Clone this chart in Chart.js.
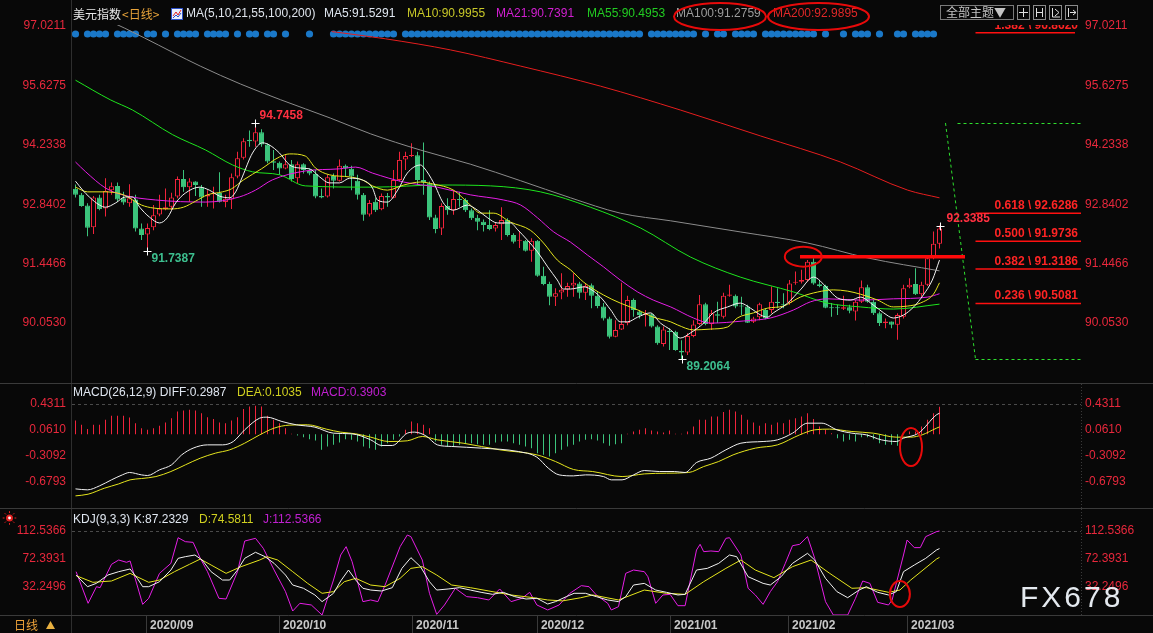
<!DOCTYPE html>
<html><head><meta charset="utf-8">
<script src="https://cdn.jsdelivr.net/npm/chart.js@4.4.1/dist/chart.umd.min.js"></script>
<style>
html,body{margin:0;padding:0;background:#080808;width:1153px;height:633px;overflow:hidden;}
#wrap{position:relative;width:1153px;height:633px;}
canvas{position:absolute;left:0;}
</style></head><body>
<div id="wrap">
<canvas id="c1" width="1153" height="384" style="top:0"></canvas>
<canvas id="c2" width="1153" height="125" style="top:384px"></canvas>
<canvas id="c3" width="1153" height="124" style="top:509px"></canvas>
</div>
<script>
// ================= DATA =================
const openP = [93.20,93.06,92.81,92.30,93.00,92.74,93.17,93.27,92.98,92.86,
 92.95,92.27,92.13,92.30,92.60,92.72,92.78,93.02,93.43,93.24,
 93.37,93.24,93.02,93.08,93.10,92.89,92.95,93.49,93.93,94.35,
 94.31,94.53,94.24,93.85,93.81,93.68,93.78,93.45,93.78,93.62,
 93.55,93.03,93.02,93.50,93.39,93.74,93.67,93.39,93.06,92.60,
 92.90,92.72,93.03,92.99,93.41,93.89,93.97,93.99,93.41,93.33,
 92.53,92.27,92.80,92.70,92.96,92.94,92.70,92.52,92.43,92.35,
 92.27,92.37,92.47,92.12,91.98,91.98,91.75,91.98,91.16,90.97,
 90.67,90.77,90.84,90.93,90.98,90.76,90.94,90.69,90.44,90.16,
 89.73,89.90,90.05,90.59,90.32,90.24,90.26,89.97,89.56,89.87,
 89.85,89.40,89.36,89.75,90.03,90.49,90.03,90.26,90.20,90.69,
 90.69,90.46,90.44,90.08,90.19,90.36,90.36,90.55,90.49,90.53,
 91.00,91.02,91.06,91.49,90.96,90.92,90.42,90.41,90.39,90.42,
 90.32,90.55,90.89,90.55,90.28,90.05,90.09,90.01,90.20,90.89,
 90.97,90.73,90.95,91.57,91.91];
const highP = [93.30,93.10,92.86,93.03,93.06,93.45,93.35,93.35,93.13,93.31,
 93.06,92.39,92.39,92.82,93.06,93.21,93.11,93.49,93.64,93.45,
 93.38,93.29,93.17,93.25,93.59,93.06,93.56,94.07,94.39,94.57,
 94.7458,94.60,94.27,94.11,93.84,93.99,93.88,93.84,93.80,93.68,
 93.64,93.21,93.53,93.56,93.89,93.77,93.74,93.53,93.10,92.94,
 92.98,93.09,93.10,93.64,94.07,94.07,94.27,94.07,94.29,93.37,
 92.59,92.86,92.98,93.17,93.13,92.98,92.74,92.59,92.48,92.70,
 92.41,92.77,92.51,92.16,92.20,92.00,92.04,92.00,91.37,91.02,
 90.87,91.22,91.00,91.22,91.02,90.98,90.98,90.79,90.52,90.20,
 90.12,91.00,90.69,90.63,90.36,90.36,90.28,90.00,89.97,89.93,
 89.87,89.65,89.81,90.12,90.71,90.53,90.36,90.55,90.76,90.95,
 90.72,90.67,90.48,90.20,90.53,90.40,90.91,90.87,90.75,91.06,
 91.26,91.30,91.53,91.57,91.06,90.95,90.52,90.48,90.69,90.48,
 90.59,91.05,90.95,90.59,90.32,90.16,90.09,90.28,90.95,91.10,
 91.34,91.02,91.61,92.20,92.3385];
const lowP = [93.00,92.78,92.09,92.14,92.70,92.55,93.06,92.90,92.83,92.78,
 92.20,92.00,91.7387,92.23,92.56,92.70,92.70,92.98,93.13,92.90,
 93.03,92.78,92.78,92.74,92.88,92.77,92.73,93.45,93.89,94.19,
 94.19,94.19,93.80,93.64,93.53,93.66,93.37,93.33,93.56,93.52,
 92.98,92.98,93.00,93.21,93.37,93.49,93.17,92.95,92.45,92.55,
 92.66,92.70,92.78,92.98,93.37,93.64,93.95,93.29,93.06,92.47,
 92.16,92.12,92.59,92.59,92.78,92.66,92.47,92.23,92.20,92.23,
 92.20,92.00,92.08,91.92,91.81,91.73,91.49,91.14,90.94,90.47,
 90.45,90.61,90.67,90.67,90.63,90.59,90.40,90.40,90.11,89.69,
 89.72,89.89,90.00,90.20,90.16,89.97,89.95,89.54,89.50,89.42,
 89.40,89.2064,89.30,89.72,90.00,90.00,89.89,90.05,90.16,90.67,
 90.40,90.24,90.05,90.05,90.12,90.14,90.28,90.40,90.40,90.48,
 90.95,90.98,91.02,90.95,90.89,90.40,90.20,90.24,90.36,90.28,
 90.11,90.52,90.53,90.24,89.98,89.93,89.93,89.66,90.16,90.87,
 90.71,90.67,90.92,91.55,91.80];
const closeP = [93.06,92.80,92.29,93.00,92.73,93.15,93.26,92.95,92.88,92.98,
 92.27,92.12,92.28,92.58,92.74,92.77,93.00,93.43,93.24,93.37,
 93.29,93.00,93.06,93.11,92.90,92.97,93.47,93.92,94.32,94.32,
 94.53,94.24,93.84,93.81,93.68,93.78,93.43,93.78,93.64,93.56,
 93.02,93.00,93.47,93.39,93.74,93.68,93.49,93.06,92.59,92.87,
 92.70,93.03,93.00,93.41,93.88,93.97,93.99,93.41,93.36,92.53,
 92.26,92.80,92.70,92.96,92.94,92.70,92.51,92.43,92.35,92.26,
 92.35,92.47,92.12,91.96,92.00,91.75,91.98,91.16,90.97,90.67,
 90.75,90.83,90.92,91.00,90.76,90.92,90.69,90.45,90.16,89.73,
 89.89,90.03,90.59,90.36,90.24,90.27,89.97,89.58,89.90,89.84,
 89.42,89.36,89.75,90.02,90.49,90.03,90.28,90.22,90.69,90.72,
 90.44,90.44,90.06,90.16,90.49,90.16,90.55,90.52,90.47,90.98,
 91.02,91.06,91.49,90.98,90.92,90.41,90.40,90.40,90.42,90.34,
 90.55,90.89,90.55,90.28,90.05,90.09,90.01,90.24,90.87,90.95,
 90.73,90.95,91.57,91.91,92.27];

const ma5 = [[0,93.38],[1.2,93.17],[2.3,93.01],[4,92.82],[5,92.77],[6.7,92.87],[8.3,93.01],[9.5,93.01],[10.7,92.77],[12.3,92.54],[14,92.40],[15.3,92.52],[16.7,92.87],[18.3,93.10],[20.7,93.24],[22.3,93.17],[24,93.03],[25.7,92.99],[26.7,93.13],[27.8,93.48],[29.5,94.04],[31.2,94.28],[32.3,94.23],[34,94.04],[35.7,93.76],[37.3,93.69],[39,93.67],[40.7,93.48],[42.3,93.34],[44,93.34],[45.7,93.45],[47.8,93.41],[49.5,93.22],[50.3,92.94],[52,92.89],[53.7,93.17],[55.3,93.57],[57.5,93.76],[58,93.71],[59.7,93.34],[61.3,92.87],[63,92.70],[65.3,92.82],[67,92.70],[68.7,92.52],[70.3,92.40],[72.5,92.40],[73.7,92.24],[75.3,92.00],[77,91.72],[78.7,91.37],[80.3,91.06],[81.3,90.85],[82.5,90.85],[84.7,90.90],[85.8,90.85],[87.5,90.66],[89.2,90.36],[90.8,90.08],[92,90.08],[93.7,90.19],[95.8,90.29],[97.5,90.05],[99.2,89.89],[100.8,89.70],[102.5,89.82],[104.7,90.05],[106.3,90.29],[108.7,90.43],[110.8,90.52],[112.5,90.40],[114.2,90.24],[115.3,90.19],[116.3,90.29],[118.7,90.52],[120.8,90.83],[123,91.13],[125.3,90.87],[127,90.64],[129.2,90.59],[130.8,90.66],[133,90.47],[134.7,90.29],[136.3,90.17],[138,90.24],[139.7,90.43],[141.3,90.71],[142.8,91.06],[144,91.5291]];
const ma10 = [[0,93.24],[2,93.13],[5,93.13],[8,93.06],[11,92.82],[13,92.75],[16,92.73],[18,92.77],[20,92.91],[22,93.06],[24.5,93.13],[26,93.20],[28,93.41],[31,93.67],[34,93.95],[35.7,94.02],[38.3,93.97],[40,93.69],[42.3,93.53],[45.7,93.48],[47.8,93.41],[49.5,93.27],[52,93.17],[54.7,93.29],[57.5,93.36],[59.7,93.31],[63,93.17],[65.8,92.82],[67.5,92.63],[69.7,92.63],[72.5,92.42],[75.8,92.23],[78,91.93],[80.3,91.53],[82.5,91.30],[84.7,91.01],[88,90.71],[90.8,90.52],[93.7,90.36],[96.3,90.19],[99.2,90.08],[100.3,90.01],[103,89.89],[105.8,89.91],[108.7,89.96],[110.3,90.17],[113,90.29],[115.3,90.40],[118,90.45],[120.8,90.66],[123.7,90.78],[126.3,90.83],[128.7,90.80],[130.8,90.73],[133.7,90.59],[136.3,90.43],[138.7,90.45],[140.8,90.52],[143,90.73],[144,90.9955]];
const ma21 = [[0,93.83],[1.7,93.60],[5,93.22],[7.8,93.06],[13.3,92.94],[21.7,92.89],[27.3,93.01],[30,93.17],[32.8,93.41],[38.3,93.62],[44,93.67],[46.7,93.71],[49.5,93.57],[54.7,93.36],[60.3,93.24],[65.8,93.06],[71.3,92.94],[74.2,92.82],[77,92.52],[79.7,92.19],[82.5,91.95],[85.3,91.65],[88,91.37],[90.8,91.06],[93.7,90.78],[96.3,90.59],[99.2,90.43],[103,90.17],[105.8,90.05],[111.3,90.10],[115.8,90.17],[119.7,90.36],[122.5,90.55],[125.3,90.62],[130.8,90.59],[136.3,90.62],[142,90.66],[144,90.7391]];
const ma55 = [[0,95.75],[5.8,95.29],[9.5,95.05],[16.2,94.47],[21.7,94.11],[26.2,93.76],[29.5,93.60],[34,93.53],[38.3,93.27],[49.5,93.24],[60.8,93.29],[69.2,93.27],[77.5,93.13],[85.8,92.77],[94.2,92.28],[102.5,91.60],[110.8,91.13],[119.7,90.78],[125.3,90.52],[130.8,90.43],[136.3,90.38],[144,90.4953]];
const ma100 = [[4.2,97.23],[8.2,96.97],[11.5,96.74],[20.8,96.08],[27.5,95.66],[34.2,95.29],[42.5,94.86],[49.2,94.49],[57.5,94.11],[65.8,93.78],[74.2,93.39],[82.5,92.99],[90.8,92.63],[99.2,92.45],[110.8,92.19],[122,91.93],[132,91.58],[144,91.2759]];
const ma200 = [[42.7,96.89],[51.7,96.72],[62.5,96.46],[74.2,96.08],[87.5,95.61],[100.8,95.05],[114.2,94.44],[127.5,93.83],[138.7,93.17],[144,92.9895]];

const macdHist = [0.196,0.134,0.072,0.134,0.134,0.205,0.262,0.262,0.262,0.238,
 0.157,0.086,0.062,0.086,0.119,0.167,0.229,0.324,0.339,0.348,
 0.339,0.300,0.243,0.215,0.167,0.157,0.196,0.243,0.358,0.396,
 0.405,0.396,0.262,0.205,0.157,0.086,0.005,-0.020,-0.043,-0.072,
 -0.091,-0.224,-0.176,-0.153,-0.119,-0.072,-0.081,-0.105,-0.176,-0.200,
 -0.224,-0.176,-0.129,-0.081,-0.033,0.062,0.181,0.157,0.134,0.086,
 -0.105,-0.153,-0.176,-0.176,-0.153,-0.138,-0.129,-0.143,-0.153,-0.153,
 -0.119,-0.105,-0.105,-0.129,-0.153,-0.176,-0.200,-0.272,-0.296,-0.320,
 -0.272,-0.224,-0.176,-0.153,-0.105,-0.081,-0.072,-0.091,-0.129,-0.167,
 -0.143,-0.129,0.005,0.038,0.062,0.086,0.052,0.038,0.024,0.052,
 0.005,0.005,0.038,0.110,0.205,0.205,0.253,0.253,0.315,0.348,
 0.324,0.277,0.205,0.167,0.119,0.157,0.134,0.167,0.157,0.205,
 0.229,0.253,0.300,0.215,0.110,0.062,0.014,-0.057,-0.105,-0.081,
 -0.105,-0.043,-0.043,-0.072,-0.129,-0.153,-0.153,-0.167,0.010,0.038,
 0.038,0.110,0.205,0.300,0.3903];
const diffLine = [[0,-0.782],[2,-0.796],[4,-0.739],[6,-0.653],[7.8,-0.582],[9,-0.548],[11,-0.582],[12,-0.591],[14,-0.510],[16,-0.439],[17.7,-0.296],[19.6,-0.200],[22,-0.153],[24.5,-0.153],[26.3,-0.105],[28.2,0.062],[30.7,0.229],[31.9,0.243],[34.4,0.181],[36.8,0.134],[39.9,0.100],[43,0.014],[46,0.005],[49.2,-0.081],[51,-0.162],[52.8,-0.162],[55.3,0.014],[56.5,0.029],[58.4,-0.024],[60.3,-0.153],[62.7,-0.176],[67.7,-0.200],[73.8,-0.248],[76.9,-0.329],[78.8,-0.486],[80.6,-0.582],[83,-0.596],[85,-0.582],[88,-0.606],[89.3,-0.653],[91.1,-0.653],[93,-0.582],[94.8,-0.520],[97.3,-0.534],[99.8,-0.534],[101.6,-0.548],[103.5,-0.405],[105.9,-0.343],[108.4,-0.224],[110.9,-0.129],[114.6,-0.105],[117,-0.081],[119.5,0.014],[122,0.157],[124.4,0.157],[126.9,0.062],[129.4,0.014],[131.8,-0.010],[134.3,-0.081],[136.8,-0.105],[138,-0.057],[140.5,0.014],[143.5,0.277],[144,0.2987]];
const deaLine = [[0,-0.882],[2.1,-0.858],[4.8,-0.773],[7.2,-0.711],[9.1,-0.653],[11,-0.634],[13.4,-0.606],[15.9,-0.534],[18.3,-0.439],[20.8,-0.343],[23.3,-0.272],[25.7,-0.224],[28.2,-0.129],[30.7,-0.010],[33.1,0.086],[35.6,0.129],[38.7,0.134],[41.8,0.072],[44.2,0.029],[46.7,0.005],[49.2,-0.043],[52.2,-0.105],[55.3,-0.095],[57.8,-0.033],[60.3,-0.081],[64.6,-0.129],[70.7,-0.224],[76.9,-0.296],[80,-0.391],[83,-0.505],[86.2,-0.534],[91.1,-0.606],[94.8,-0.568],[98.5,-0.558],[102.2,-0.548],[104.7,-0.463],[107.2,-0.391],[109.6,-0.296],[113.3,-0.200],[117,-0.153],[120.7,-0.010],[123.2,0.062],[125.7,0.072],[129.4,0.038],[133,0.014],[136.8,-0.043],[139.2,-0.043],[141.1,-0.010],[143.5,0.086],[144,0.1035]];

const kLine = [[0.1,49.2],[2,32.4],[3.5,37.3],[5.4,49.2],[7.2,54.0],[9.1,57.9],[10.3,44.4],[11.2,32.4],[12.2,32.4],[14,39.6],[15.9,56.4],[17.1,73.2],[18.3,75.6],[19.9,78.0],[21.1,70.8],[22.6,54.0],[24.5,42.0],[25.7,42.0],[27,56.4],[28.2,73.2],[30,81.9],[31.6,75.6],[33.1,66.0],[35,49.2],[36.2,34.8],[38,30.1],[39.9,20.5],[41.1,10.9],[43,22.9],[44.2,40.6],[45.5,56.4],[46.7,42.0],[47.9,30.1],[49.2,27.6],[51,26.2],[52.8,31.0],[54.4,58.8],[55.9,74.2],[57.5,61.2],[59,39.6],[60.2,27.6],[62.1,29.1],[64,31.0],[65.8,27.6],[67.6,24.3],[69.5,21.4],[71.3,24.3],[73.2,18.1],[75.1,14.7],[76.9,15.7],[78.7,7.5],[80,10.9],[81.8,18.1],[83.1,22.9],[85,22.9],[86.8,18.1],[88.7,13.3],[90.5,10.9],[91.7,18.1],[93,34.8],[94.8,37.2],[96.7,27.6],[98.5,24.3],[100.4,20.5],[101.6,21.4],[103.5,56.4],[105.3,58.8],[107.2,66.0],[109,78.0],[110.2,75.6],[112.1,46.8],[114.6,37.2],[115.8,34.8],[117.6,46.8],[119.5,66.0],[122,80.4],[123.2,70.8],[125,44.4],[126.9,25.3],[128.7,16.6],[130.6,27.6],[131.8,32.4],[133.7,24.3],[135.5,20.5],[136.8,25.3],[138,54.0],[139.8,63.6],[141.7,73.2],[143.5,85.2],[144,87.2329]];
const dLine = [[0.1,48.3],[2.9,38.7],[6,40.6],[9.1,51.6],[12.2,38.7],[14,42.0],[16.5,54.0],[19,64.6],[20.8,72.2],[22.6,63.6],[25.1,51.6],[27.6,61.2],[30.7,70.8],[31.9,75.6],[33.7,70.8],[36.2,54.0],[38.7,37.2],[41.1,22.9],[43,25.3],[44.8,39.6],[46.7,44.4],[49.2,34.8],[51.6,32.4],[54.1,44.4],[55.9,58.8],[57.8,61.2],[60.2,49.2],[62.7,34.8],[65.8,31.0],[68.9,26.2],[72.6,20.5],[76.3,16.6],[78.7,13.3],[81.2,12.0],[84.2,16.5],[86.2,20.5],[90.5,13.3],[94.8,27.6],[98.5,22.9],[101.6,21.4],[104.7,39.6],[108.4,58.8],[110.9,70.8],[113.3,56.4],[116.4,45.4],[119.5,61.2],[122.6,70.8],[125.7,51.6],[129.4,30.1],[131.8,31.0],[135.5,24.3],[137.4,27.6],[139.2,42.0],[143.5,72.2],[144,74.5811]];
const jLine = [[0.1,54.0],[2.1,8.5],[3.5,32.4],[4.1,31.0],[6,64.6],[7.2,70.8],[8.5,67.5],[9.1,69.4],[11.2,7.0],[12.2,15.7],[14,51.6],[15.9,66.0],[17.1,102.9],[18.3,97.2],[19.6,96.2],[20.8,73.2],[22,54.0],[23.9,15.7],[25.1,14.7],[27,54.0],[28.2,98.1],[30,102.0],[31.3,87.6],[33.1,56.4],[35,25.3],[36.2,-2.6],[37.4,8.5],[39.3,6.1],[41.1,-8.3],[43,42.0],[44.2,78.0],[45.1,90.0],[46.1,68.4],[47.9,10.9],[49.2,13.3],[50.4,10.9],[51.6,34.8],[54.1,90.0],[55.3,106.8],[55.9,104.4],[57.8,70.8],[59,22.9],[60.2,-7.4],[61.5,6.1],[63.3,30.1],[65.2,18.1],[67,16.6],[68.9,13.3],[70.7,29.1],[72.6,10.9],[74.4,15.7],[75.7,24.3],[76.9,6.1],[78.7,-1.1],[80.6,6.1],[82.4,22.9],[84.3,33.9],[85.6,32.4],[86.8,20.5],[88.7,8.5],[89.3,-1.1],[90.5,3.7],[91.7,51.6],[93,56.4],[94.8,54.0],[95.4,46.8],[96.7,8.5],[97.9,20.5],[99.1,21.4],[100.4,5.1],[101.6,5.1],[103.5,85.2],[104.1,93.4],[104.7,82.8],[105.9,83.8],[107.2,82.8],[108.4,102.0],[109,102.9],[110.9,78.0],[112.1,30.1],[113.3,20.5],[114.6,7.0],[115.8,25.3],[117,39.6],[118.3,66.0],[119.5,91.4],[120.7,93.4],[122,104.4],[123.2,73.2],[125,10.9],[126.3,-8.3],[128.7,-8.3],[130,15.7],[131.2,40.6],[132.4,37.2],[133.7,9.9],[135.5,6.1],[136.1,13.3],[138,78.0],[138.6,99.6],[139.8,88.6],[140.8,88.6],[141.7,104.4],[143.5,111.6],[144,112.5366]];

const mainTicks = [97.0211, 95.6275, 94.2338, 92.8402, 91.4466, 90.0530];
const macdTicks = [0.4311, 0.0610, -0.3092, -0.6793];
const kdjTicks = [112.5366, 72.3931, 32.2496];
const monthPos = [11.75, 33.9, 56.1, 76.9, 99.1, 118.75, 138.6];
const monthLabels = ['2020/09','2020/10','2020/11','2020/12','2021/01','2021/02','2021/03'];
const newsRuns = [[0,0],[2,5],[7,10],[12,13],[15,15],[17,20],[22,25],[27,27],[29,30],[32,33],[35,35],[39,39],[43,53],[55,94],[96,103],[105,105],[107,108],[110,113],[115,123],[125,125],[128,128],[130,132],[134,134],[137,138],[140,143]];
const fibRatios = ['0.236','0.382','0.500','0.618','1.382'];
const fibValues = [90.5081, 91.3186, 91.9736, 92.6286, 96.8620];
const fibHigh = 94.7458, fibLow = 89.2064;
const keyLevel = 91.61;
const markIdx = [30, 12, 101, 144];
const markVal = [94.7458, 91.7387, 89.2064, 92.3385];
const markUp = [true, false, false, true];

// ================= RENDER =================
const RED = '#f0243c', GREEN = '#3cc47c', BG = '#080808';
const FONT = '"Liberation Sans", Arial, Helvetica, sans-serif';
const CJK = '"Noto Sans CJK SC", "Noto Sans", sans-serif';
const X_MIN = -0.5833, X_MAX = 167.5833;
const up = i => closeP[i] >= openP[i];
const pts = a => a.map(p => ({x: p[0], y: p[1]}));

function lineDS(arr, color, order, smooth) {
  return {type: 'line', data: pts(arr), borderColor: color, borderWidth: 1, pointRadius: 0,
    fill: false, order, tension: 0, cubicInterpolationMode: smooth ? 'monotone' : 'default'};
}
function xScale(display) {
  return {type: 'linear', min: X_MIN, max: X_MAX, offset: false, bounds: 'data', display,
    grid: {display: false, drawTicks: false}, border: {display: false}, ticks: {display: false}};
}
function yScale(pos, min, max, ticks, pad) {
  return {type: 'linear', position: pos, min, max, bounds: 'data', beginAtZero: false,
    afterFit(s) { s.width = 72; s.paddingTop = 0; s.paddingBottom = 0; },
    afterBuildTicks(s) { s.ticks = ticks.map(v => ({value: v})); },
    grid: {display: false, drawTicks: false}, border: {display: false},
    ticks: {autoSkip: false, padding: pad, color: '#e8283c', font: {family: FONT, size: 12},
      callback: v => Number(v).toFixed(4)}};
}
function txt(ctx, s, x, y, color, font, align) {
  ctx.fillStyle = color; ctx.font = font; ctx.textBaseline = 'middle';
  ctx.textAlign = align || 'left'; ctx.fillText(s, x, y);
}
function hline(ctx, x1, x2, y, color, w, dash) {
  ctx.save(); ctx.strokeStyle = color; ctx.lineWidth = w || 1; ctx.setLineDash(dash || []);
  ctx.beginPath(); ctx.moveTo(x1, y); ctx.lineTo(x2, y); ctx.stroke(); ctx.restore();
}
function vline(ctx, x, y1, y2, color, w, dash) {
  ctx.save(); ctx.strokeStyle = color; ctx.lineWidth = w || 1; ctx.setLineDash(dash || []);
  ctx.beginPath(); ctx.moveTo(x, y1); ctx.lineTo(x, y2); ctx.stroke(); ctx.restore();
}
function ellipse(ctx, cx, cy, rx, ry) {
  ctx.save(); ctx.strokeStyle = '#e80a0a'; ctx.lineWidth = 2;
  ctx.beginPath(); ctx.ellipse(cx, cy, rx, ry, 0, 0, Math.PI * 2); ctx.stroke(); ctx.restore();
}
const F12 = '12px ' + FONT, B12 = 'bold 12px ' + FONT, C12 = '12px ' + CJK;
const common = {responsive: false, animation: false, events: [],
  plugins: {legend: {display: false}, tooltip: {enabled: false}}};

// ---------- main price panel ----------
const MAIN_MIN = 88.645, MAIN_MAX = 97.0446;
const mainDeco = {
  id: 'mainDeco',
  beforeDatasetsDraw(ch) {
    const {ctx, chartArea: a, scales: {x}} = ch;
    ctx.save(); ctx.fillStyle = '#1a78c8';
    newsRuns.forEach(([s, e]) => { for (let i = s; i <= e; i++) {
      ctx.beginPath(); ctx.arc(x.getPixelForValue(i), a.top + 9, 3.6, 0, Math.PI * 2); ctx.fill(); } });
    ctx.restore();
  },
  afterDatasetsDraw(ch) {
    const {ctx, chartArea: a, scales: {x, y}} = ch;
    ctx.save();
    ctx.beginPath(); ctx.rect(a.left, a.top, a.right - a.left, a.bottom - a.top); ctx.clip();
    const xA = x.getPixelForValue(145), xB = x.getPixelForValue(150);
    const yH = y.getPixelForValue(fibHigh), yL = y.getPixelForValue(fibLow);
    ctx.save(); ctx.strokeStyle = '#2ee02e'; ctx.lineWidth = 1; ctx.setLineDash([3, 3]);
    ctx.beginPath(); ctx.moveTo(x.getPixelForValue(147), Math.round(yH) + 0.5); ctx.lineTo(a.right, Math.round(yH) + 0.5);
    ctx.moveTo(xA, yH); ctx.lineTo(xB, yL);
    ctx.moveTo(xB, Math.round(yL) + 0.5); ctx.lineTo(a.right, Math.round(yL) + 0.5); ctx.stroke(); ctx.restore();
    fibValues.forEach((v, k) => {
      const yy = y.getPixelForValue(v);
      hline(ctx, xB, k === 4 ? a.right - 6 : a.right, yy, '#ff1010', 1.5);
      txt(ctx, fibRatios[k] + ' \\ ' + v.toFixed(4), a.right - 3, yy - 7.5, '#ff2424', B12, 'right');
    });
    const yK = y.getPixelForValue(keyLevel);
    hline(ctx, x.getPixelForValue(120.75), x.getPixelForValue(148.25), yK, '#ff0a0a', 3.5);
    ellipse(ctx, x.getPixelForValue(121.3), yK, 18.5, 10);
    markIdx.forEach((i, k) => {
      const px = Math.round(x.getPixelForValue(i)) + 0.5, py = Math.round(y.getPixelForValue(markVal[k])) + 0.5;
      ctx.save(); ctx.strokeStyle = '#ffffff'; ctx.lineWidth = 1; ctx.beginPath();
      ctx.moveTo(px - 4, py); ctx.lineTo(px + 4, py); ctx.moveTo(px, py - 4); ctx.lineTo(px, py + 4); ctx.stroke(); ctx.restore();
      const col = markUp[k] ? '#ff3040' : '#3dbf8f';
      txt(ctx, markVal[k].toFixed(4), px + (i === 144 ? 6 : 4), markUp[k] ? py - 7.5 : py + 7.5, col, B12);
    });
    ctx.restore();
  },
  afterDraw(ch) {
    const {ctx} = ch;
    vline(ctx, 71.5, 0, 384, '#2e2e2e');
    hline(ctx, 0, 1153, 383.5, '#3a3a3a');
    const hy = 14;
    txt(ctx, '美元指数', 73, hy, '#e8e8e8', C12);
    txt(ctx, '<日线>', 122, hy, '#e8a33a', C12);
    ctx.save(); ctx.fillStyle = '#e8eefc'; ctx.fillRect(171, 8, 12, 12);
    ctx.strokeStyle = '#2c50c8'; ctx.lineWidth = 1; ctx.strokeRect(171.5, 8.5, 11, 11);
    ctx.strokeStyle = '#e02020'; ctx.beginPath(); ctx.moveTo(173, 16); ctx.lineTo(176, 12); ctx.lineTo(178, 15); ctx.lineTo(181, 10); ctx.stroke();
    ctx.strokeStyle = '#2c50c8'; ctx.beginPath(); ctx.moveTo(173, 18); ctx.lineTo(176, 15); ctx.lineTo(178, 17); ctx.lineTo(181, 13); ctx.stroke(); ctx.restore();
    txt(ctx, 'MA(5,10,21,55,100,200)', 186, hy, '#dfe4ec', F12);
    txt(ctx, 'MA5:91.5291', 324, hy, '#dfe6f0', F12);
    txt(ctx, 'MA10:90.9955', 407, hy, '#c8c828', F12);
    txt(ctx, 'MA21:90.7391', 496, hy, '#d21fd2', F12);
    txt(ctx, 'MA55:90.4953', 587, hy, '#22cc22', F12);
    txt(ctx, 'MA100:91.2759', 676, hy, '#9c9c9c', F12);
    txt(ctx, 'MA200:92.9895', 773, hy, '#e02828', F12);
    ellipse(ctx, 720, 16.5, 46, 13.5);
    ellipse(ctx, 818.5, 16.5, 50.5, 13.5);
    ctx.save(); ctx.strokeStyle = '#7a7a7a'; ctx.lineWidth = 1; ctx.strokeRect(940.5, 5.5, 73, 14); ctx.restore();
    txt(ctx, '全部主题▼', 946, 12.5, '#c4c4c4', C12);
    [1017, 1033, 1049, 1065].forEach((bx, k) => {
      ctx.save(); ctx.strokeStyle = '#8a8a8a'; ctx.lineWidth = 1; ctx.strokeRect(bx + 0.5, 5.5, 12, 14);
      ctx.strokeStyle = '#e0e0e0'; ctx.beginPath();
      if (k === 0) { ctx.moveTo(bx + 6.5, 8); ctx.lineTo(bx + 6.5, 17); ctx.moveTo(bx + 2, 12.5); ctx.lineTo(bx + 11, 12.5); }
      else if (k === 1) { ctx.moveTo(bx + 3.5, 8); ctx.lineTo(bx + 3.5, 17); ctx.moveTo(bx + 9.5, 8); ctx.lineTo(bx + 9.5, 17); ctx.moveTo(bx + 3, 12.5); ctx.lineTo(bx + 10, 12.5); }
      else if (k === 2) { ctx.moveTo(bx + 3.5, 8); ctx.lineTo(bx + 3.5, 17); ctx.lineTo(bx + 11, 17); ctx.moveTo(bx + 6, 9); ctx.lineTo(bx + 10, 12.5); ctx.lineTo(bx + 6, 16); }
      else { ctx.moveTo(bx + 3.5, 8); ctx.lineTo(bx + 3.5, 17); ctx.moveTo(bx + 5, 12.5); ctx.lineTo(bx + 11, 12.5); ctx.moveTo(bx + 8, 10); ctx.lineTo(bx + 11, 12.5); ctx.lineTo(bx + 8, 15); }
      ctx.stroke(); ctx.restore();
    });
  }
};
new Chart(document.getElementById('c1'), {
  type: 'bar',
  data: {datasets: [
    lineDS(ma5, '#f2f2f2', 0, true),
    lineDS(ma10, '#e6e61e', 0, true),
    lineDS(ma21, '#e61ee6', 0, true),
    lineDS(ma55, '#1ee61e', 0, true),
    lineDS(ma100, '#8c8c8c', 0, true),
    lineDS(ma200, '#e61e1e', 0, true),
    {type: 'bar', data: openP.map((o, i) => ({x: i, y: [o, closeP[i]]})), grouped: false,
      barThickness: 5, maxBarThickness: 5, minBarLength: 1, borderWidth: 1, borderSkipped: false, inflateAmount: 0,
      backgroundColor: c => up(c.dataIndex) ? BG : GREEN, borderColor: c => up(c.dataIndex) ? RED : GREEN, order: 5},
    {type: 'bar', data: lowP.map((l, i) => ({x: i, y: [l, highP[i]]})), grouped: false,
      barThickness: 1, maxBarThickness: 1, borderWidth: 0, inflateAmount: 0,
      backgroundColor: c => up(c.dataIndex) ? RED : GREEN, order: 6}
  ]},
  options: Object.assign({}, common, {
    layout: {padding: {top: 25, bottom: 1, left: 0, right: 0}},
    scales: {x: xScale(false), y: yScale('left', MAIN_MIN, MAIN_MAX, mainTicks, 6), yR: yScale('right', MAIN_MIN, MAIN_MAX, mainTicks, 4)}
  }),
  plugins: [mainDeco]
});

// ---------- MACD panel ----------
const MACD_MIN = -1.0553, MACD_MAX = 0.7169;
const macdDeco = {
  id: 'macdDeco',
  beforeDatasetsDraw(ch) {
    const {ctx, chartArea: a, scales: {y}} = ch;
    hline(ctx, a.left, a.right, Math.round(y.getPixelForValue(macdTicks[0])) + 0.5, '#4a4a4a', 1, [3, 3]);
  },
  afterDatasetsDraw(ch) {
    const {ctx, scales: {x, y}} = ch;
    ellipse(ctx, x.getPixelForValue(139.25), y.getPixelForValue(-0.1834), 11, 19);
  },
  afterDraw(ch) {
    const {ctx, chartArea: a} = ch;
    vline(ctx, 71.5, 0, 125, '#2e2e2e');
    vline(ctx, a.right + 0.5, 0, 124, '#3a3a3a', 1, [1, 2]);
    hline(ctx, 0, 1153, 124.5, '#3a3a3a');
    txt(ctx, 'MACD(26,12,9) DIFF:0.2987', 73, 9, '#dfe6f0', F12);
    txt(ctx, 'DEA:0.1035', 237, 9, '#d0d020', F12);
    txt(ctx, 'MACD:0.3903', 311, 9, '#c020d0', F12);
  }
};
new Chart(document.getElementById('c2'), {
  type: 'bar',
  data: {datasets: [
    lineDS(diffLine, '#f2f2f2', 0, true),
    lineDS(deaLine, '#e6e61e', 1, true),
    {type: 'bar', data: macdHist.map((v, i) => ({x: i, y: v})), grouped: false,
      barThickness: 1, maxBarThickness: 1, borderWidth: 0, inflateAmount: 0,
      backgroundColor: c => macdHist[c.dataIndex] >= 0 ? RED : GREEN, order: 5}
  ]},
  options: Object.assign({}, common, {
    layout: {padding: {top: 0, bottom: 1, left: 0, right: 0}},
    scales: {x: xScale(false), y: yScale('left', MACD_MIN, MACD_MAX, macdTicks, 6), yR: yScale('right', MACD_MIN, MACD_MAX, macdTicks, 4)}
  }),
  plugins: [macdDeco]
});

// ---------- KDJ panel ----------
const KDJ_MIN = -8.32, KDJ_MAX = 144.19;
const kdjDeco = {
  id: 'kdjDeco',
  beforeDatasetsDraw(ch) {
    const {ctx, chartArea: a, scales: {y}} = ch;
    hline(ctx, a.left, a.right, Math.round(y.getPixelForValue(kdjTicks[0])) + 0.5, '#4a4a4a', 1, [3, 3]);
  },
  afterDatasetsDraw(ch) {
    const {ctx, scales: {x, y}} = ch;
    ellipse(ctx, x.getPixelForValue(137.4), y.getPixelForValue(21.9), 10, 13);
  },
  afterDraw(ch) {
    const {ctx, chartArea: a, scales: {x}} = ch;
    vline(ctx, 71.5, 0, 124, '#2e2e2e');
    vline(ctx, a.right + 0.5, 0, 106, '#3a3a3a', 1, [1, 2]);
    hline(ctx, 0, 1153, 106.5, '#3a3a3a');
    monthPos.forEach(p => vline(ctx, Math.round(x.getPixelForValue(p)) + 0.5, 107, 124, '#3a3a3a'));
    txt(ctx, 'KDJ(9,3,3) K:87.2329', 73, 11, '#dfe6f0', F12);
    txt(ctx, 'D:74.5811', 199, 11, '#d0d020', F12);
    txt(ctx, 'J:112.5366', 263, 11, '#c020d0', F12);
    ctx.save(); ctx.fillStyle = '#e02020'; ctx.beginPath(); ctx.arc(9.5, 9, 3.5, 0, Math.PI * 2); ctx.fill();
    ctx.fillStyle = '#ffffff'; ctx.beginPath(); ctx.arc(9.5, 9, 1.4, 0, Math.PI * 2); ctx.fill();
    ctx.strokeStyle = '#e02020'; ctx.lineWidth = 1;
    for (let k = 0; k < 8; k++) { const an = k * Math.PI / 4; ctx.beginPath();
      ctx.moveTo(9.5 + Math.cos(an) * 5, 9 + Math.sin(an) * 5); ctx.lineTo(9.5 + Math.cos(an) * 6.8, 9 + Math.sin(an) * 6.8); ctx.stroke(); }
    ctx.restore();
    txt(ctx, '日线', 14, 116, '#eda23a', C12);
    ctx.save(); ctx.fillStyle = '#e8b040'; ctx.beginPath(); ctx.moveTo(46, 120); ctx.lineTo(55, 120); ctx.lineTo(50.5, 112); ctx.closePath(); ctx.fill(); ctx.restore();
    ctx.save(); ctx.fillStyle = '#e4e9ef'; ctx.font = '30px ' + FONT; ctx.textBaseline = 'alphabetic'; ctx.textAlign = 'left';
    ctx.letterSpacing = '3px';
    ctx.fillText('FX678', 1020, 98);
    ctx.restore();
  }
};
new Chart(document.getElementById('c3'), {
  type: 'line',
  data: {datasets: [
    lineDS(kLine, '#f2f2f2', 1, false),
    lineDS(dLine, '#e6e61e', 2, false),
    lineDS(jLine, '#e61ee6', 3, false)
  ]},
  options: Object.assign({}, common, {
    layout: {padding: {top: 0, bottom: 0, left: 0, right: 0}},
    scales: {
      x: {type: 'linear', min: X_MIN, max: X_MAX, offset: false, bounds: 'data', position: 'bottom',
        afterFit(s) { s.height = 18; s.paddingLeft = 0; s.paddingRight = 0; },
        afterBuildTicks(s) { s.ticks = monthPos.map(v => ({value: v})); },
        grid: {display: false, drawTicks: false}, border: {display: false},
        ticks: {autoSkip: false, maxRotation: 0, minRotation: 0, align: 'start', labelOffset: 4, padding: 3,
          color: '#c8c8c8', font: {family: FONT, size: 12, weight: 'bold'}, callback: (v, i) => monthLabels[i]}},
      y: yScale('left', KDJ_MIN, KDJ_MAX, kdjTicks, 6),
      yR: yScale('right', KDJ_MIN, KDJ_MAX, kdjTicks, 4)
    }
  }),
  plugins: [kdjDeco]
});
</script>
</body></html>
